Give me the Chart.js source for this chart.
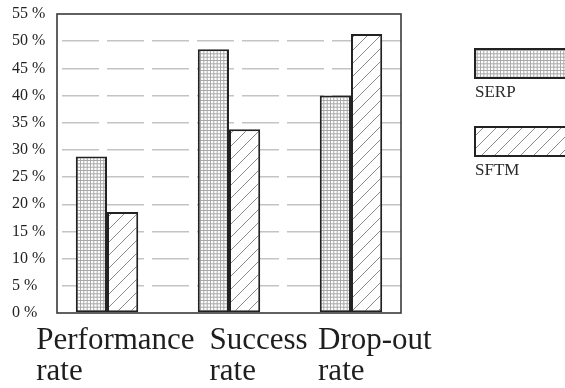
<!DOCTYPE html>
<html>
<head>
<meta charset="utf-8">
<script src="https://cdn.jsdelivr.net/npm/chart.js@4.4.1/dist/chart.umd.min.js"></script>
<style>
  html, body { margin: 0; padding: 0; background: #fff; }
  #wrap { width: 565px; height: 388px; }
</style>
</head>
<body>
<div id="wrap"><canvas id="chart" width="565" height="388"></canvas></div>
<script>
// data
const categories = [['Performance', 'rate'], ['Success', 'rate'], ['Drop-out', 'rate']];
const serpValues = [28.8, 48.5, 40];
const sftmValues = [18.6, 33.8, 51.3];
const seriesNames = ['SERP', 'SFTM'];
const yTickLabels = ['0 %', '5 %', '10 %', '15 %', '20 %', '25 %', '30 %', '35 %', '40 %', '45 %', '50 %', '55 %'];

// layout tweaks (category units)
const xEdgePad = 0.41;                 // space between frame and first/last pair
const xLabelShift = [-0.58, -0.16, -0.27]; // left edge of each label block

function makeGridPattern() {
    const c = document.createElement('canvas');
    c.width = 10; c.height = 10;
    const g = c.getContext('2d');
    g.fillStyle = '#fff';
    g.fillRect(0, 0, 10, 10);
    g.strokeStyle = '#a8a8a8';
    g.lineWidth = 1;
    g.beginPath();
    [0.5, 3.8, 7.2].forEach(p => {
        g.moveTo(p, 0); g.lineTo(p, 10);
        g.moveTo(0, p); g.lineTo(10, p);
    });
    g.stroke();
    return g.createPattern(c, 'repeat');
}

function makeHatchPattern() {
    const s = 13;
    const c = document.createElement('canvas');
    c.width = s; c.height = s;
    const g = c.getContext('2d');
    g.fillStyle = '#fff';
    g.fillRect(0, 0, s, s);
    g.strokeStyle = '#8a8a8a';
    g.lineWidth = 1;
    g.beginPath();
    g.moveTo(0, s); g.lineTo(s, 0);
    g.moveTo(-s / 2, s / 2); g.lineTo(s / 2, -s / 2);
    g.moveTo(s / 2, s * 1.5); g.lineTo(s * 1.5, s / 2);
    g.stroke();
    return g.createPattern(c, 'repeat');
}

const framePlugin = {
    id: 'frame',
    afterDatasetsDraw(chart) {
        const { ctx, chartArea: a } = chart;
        ctx.save();
        ctx.strokeStyle = '#3a3a3a';
        ctx.lineWidth = 1.6;
        ctx.strokeRect(a.left, a.top, a.right - a.left, a.bottom - a.top);
        ctx.restore();
    }
};

// legend: wide patterned box with the name under it
const boxLegendPlugin = {
    id: 'boxLegend',
    afterDraw(chart) {
        const { ctx, chartArea: a } = chart;
        const x = a.right + 74;
        ctx.save();
        chart.data.datasets.forEach((ds, i) => {
            const top = 49 + i * 78;
            ctx.fillStyle = ds.backgroundColor;
            ctx.fillRect(x, top, 100, 29);
            ctx.strokeStyle = '#222';
            ctx.lineWidth = 2;
            ctx.strokeRect(x, top, 100, 29);
            ctx.fillStyle = '#2a2a2a';
            ctx.font = '17px "Liberation Serif"';
            ctx.textAlign = 'left';
            ctx.textBaseline = 'alphabetic';
            ctx.fillText(ds.label, x, top + 48);
        });
        ctx.restore();
    }
};

new Chart(document.getElementById('chart'), {
    type: 'bar',
    data: {
        labels: categories,
        datasets: [
            { label: seriesNames[0], data: serpValues, backgroundColor: makeGridPattern() },
            { label: seriesNames[1], data: sftmValues, backgroundColor: makeHatchPattern() }
        ]
    },
    options: {
        responsive: false,
        animation: false,
        layout: { padding: { left: 12, top: 14, right: 164, bottom: 0 } },
        datasets: {
            bar: {
                borderColor: '#222',
                borderWidth: 2,
                borderSkipped: false,
                categoryPercentage: 0.575,
                barPercentage: 1
            }
        },
        plugins: {
            legend: { display: false },
            tooltip: { enabled: false }
        },
        scales: {
            x: {
                grid: { display: false, drawTicks: false },
                border: { display: false },
                ticks: {
                    align: 'start',
                    maxRotation: 0,
                    autoSkip: false,
                    padding: 13,
                    color: '#1e1e1e',
                    font: { family: 'Liberation Serif', size: 31, lineHeight: 0.99 }
                },
                afterBuildTicks(scale) {
                    scale._startValue = -xEdgePad;
                    scale._valueRange = categories.length - 1 + 2 * xEdgePad;
                },
                afterTickToLabelConversion(scale) {
                    scale.ticks.forEach((t, i) => { t.value = i + xLabelShift[i]; });
                },
                afterFit(scale) { scale.height = 75; }
            },
            y: {
                min: 0,
                max: 55,
                border: { display: false, dash: [37, 8], dashOffset: 40 },
                grid: {
                    drawTicks: false,
                    lineWidth: 1.5,
                    color: c => (c.tick && (c.tick.value === 0 || c.tick.value === 55)) ? 'rgba(0,0,0,0)' : '#c4c4c4'
                },
                ticks: {
                    stepSize: 5,
                    crossAlign: 'far',
                    color: '#222',
                    font: { family: 'Liberation Serif', size: 16 },
                    callback: (v, i) => yTickLabels[i]
                },
                afterFit(scale) { scale.width = 45; }
            }
        }
    },
    plugins: [framePlugin, boxLegendPlugin]
});
</script>
</body>
</html>
